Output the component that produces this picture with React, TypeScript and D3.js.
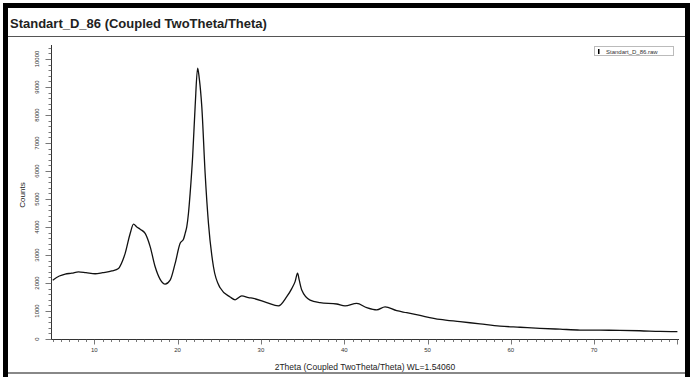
import React from "react";
import * as d3 from "d3";

const twoTheta = [
  5.0, 5.8, 6.5, 7.3, 8.1, 9.0, 10.1, 11.0, 12.1, 12.9, 13.4, 13.7, 14.3, 14.7, 15.1, 15.5,
  16.1, 16.7, 17.3, 17.9, 18.5, 19.1, 19.7, 20.3, 20.7, 20.9, 21.1, 21.3, 21.5, 21.8, 22.1,
  22.4, 22.6, 22.9, 23.3, 23.7, 24.3, 25.1, 26.3, 26.9, 27.7, 28.5, 29.1, 30.7, 32.1, 33.1,
  33.7, 34.1, 34.4, 34.6, 34.9, 35.9, 37.1, 39.1, 40.1, 41.5, 42.7, 43.9, 44.9, 46.3, 47.5,
  49.1, 51.5, 53.9, 56.3, 58.7, 61.1, 63.5, 65.9, 68.3, 70.7, 73.1, 75.5, 77.9, 80.0,
];
const counts = [
  2100, 2250, 2320, 2350, 2400, 2370, 2330, 2370, 2430, 2520, 2800, 3060, 3770, 4100, 4000, 3920,
  3770, 3300, 2580, 2130, 1960, 2100, 2700, 3420, 3560, 3770, 4010, 4490, 5200, 6510, 8300,
  9670, 9300, 8300, 5920, 4130, 2580, 1830, 1500, 1400, 1540, 1480, 1450, 1300, 1180, 1510,
  1800, 2050, 2350, 2100, 1750, 1390, 1300, 1250, 1180, 1270, 1120, 1040, 1150, 1010, 940,
  840, 700, 620, 540, 460, 420, 380, 350, 320, 315, 310, 295, 270, 260,
];
const xTickLabels = [10, 20, 30, 40, 50, 60, 70];
const yTickLabels = [0, 1000, 2000, 3000, 4000, 5000, 6000, 7000, 8000, 9000, 10000];

const title = "Standart_D_86 (Coupled TwoTheta/Theta)";
const xTitle = "2Theta (Coupled TwoTheta/Theta) WL=1.54060";
const yTitle = "Counts";
const legendLabel = "Standart_D_86.raw";

export default function App() {
  const W = 690, H = 377;
  const x = d3.scaleLinear().domain([5, 80]).range([52.7, 677.4]);
  const y = d3.scaleLinear().domain([0, 10500]).range([339, 45]);
  const pts = twoTheta.map((t, i) => [t, counts[i]] as [number, number]);
  const line = d3
    .line<[number, number]>()
    .x((d) => x(d[0]))
    .y((d) => y(d[1]))
    .curve(d3.curveMonotoneX);

  const xMinor = d3.range(5, 81, 1);
  const yMinor = d3.range(0, 10501, 200);
  const font = "Liberation Sans, Arial, sans-serif";

  return (
    <svg width={W} height={H} style={{ position: "absolute", left: 0, top: 0, background: "#fff" }} fontFamily={font}>
      <rect x={0} y={0} width={W} height={H} fill="#fff" />
      {/* frame */}
      <rect x={3} y={3} width={687} height={5} fill="#000" />
      <rect x={3} y={3} width={5} height={374} fill="#000" />
      <rect x={685} y={3} width={5} height={374} fill="#000" />
      <rect x={8} y={372} width={677} height={2} fill="#888" />
      <text x={10} y={28} fontSize={13} fontWeight="bold" fill="#222">{title}</text>
      <line x1={8} x2={685} y1={36.5} y2={36.5} stroke="#555" strokeWidth={1} />

      {/* y axis */}
      <line x1={51.5} x2={51.5} y1={y(10500)} y2={339.5} stroke="#333" strokeWidth={1} />
      {yMinor.map((v) => (
        <line key={"ym" + v} x1={51.5 - (v % 1000 === 0 ? 6 : v % 500 === 0 ? 4 : 3)} x2={51.5}
          y1={Math.round(y(v)) + 0.5} y2={Math.round(y(v)) + 0.5} stroke="#555" strokeWidth={0.8} />
      ))}
      {yTickLabels.map((v) => (
        <text key={"yl" + v} transform={`translate(39,${y(v)}) rotate(-90)`} textAnchor="middle"
          fontSize={6} fill="#333">{v}</text>
      ))}
      <text transform={`translate(25,195) rotate(-90)`} textAnchor="middle" fontSize={8} fill="#222">{yTitle}</text>

      {/* x axis */}
      <line x1={51.5} x2={679} y1={339.5} y2={339.5} stroke="#333" strokeWidth={1} />
      {xMinor.map((v) => (
        <line key={"xm" + v} x1={Math.round(x(v)) + 0.5} x2={Math.round(x(v)) + 0.5}
          y1={339.5} y2={339.5 + (v % 10 === 0 ? 5 : 2.5)} stroke="#555" strokeWidth={0.8} />
      ))}
      {xTickLabels.map((v) => (
        <text key={"xl" + v} x={x(v)} y={352} textAnchor="middle" fontSize={6} fill="#333">{v}</text>
      ))}
      <text x={365} y={370} textAnchor="middle" fontSize={8.5} fill="#222">{xTitle}</text>

      {/* data */}
      <path d={line(pts) || ""} fill="none" stroke="#111" strokeWidth={1.3} />

      {/* legend */}
      <rect x={594.5} y={46.5} width={79} height={9} fill="#fff" stroke="#bbb" strokeWidth={1} />
      <rect x={598} y={49} width={1.5} height={5} fill="#000" />
      <text x={606} y={53.5} fontSize={6} fill="#333">{legendLabel}</text>
    </svg>
  );
}
